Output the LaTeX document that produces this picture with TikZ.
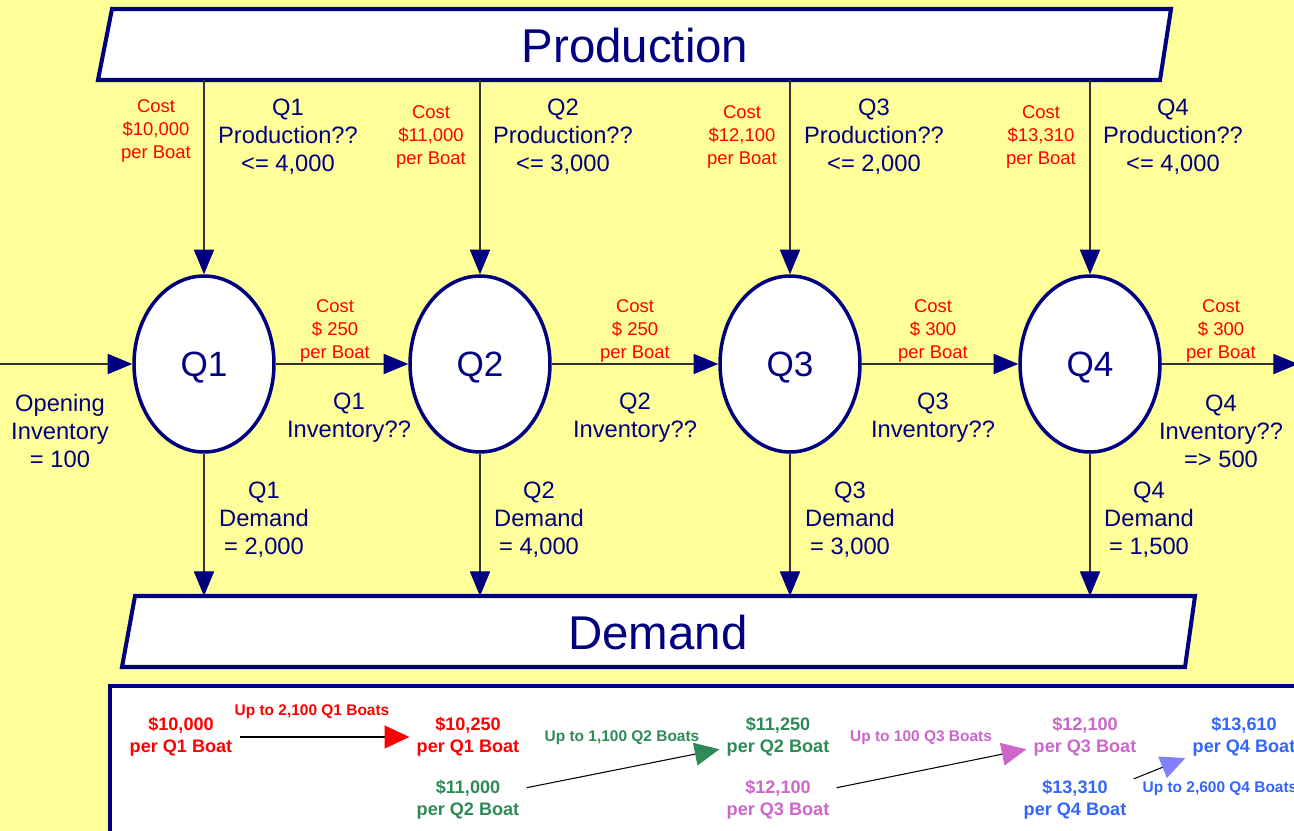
\documentclass[tikz,border=0pt]{standalone}
\usepackage{fontspec}
\setmainfont{Liberation Sans}
\usetikzlibrary{arrows.meta, positioning, shapes.geometric}
\definecolor{bgYellow}{RGB}{255,255,153}
\definecolor{mainNavy}{RGB}{0,0,128}
\definecolor{costRed}{RGB}{255,0,0}
\definecolor{qTwoGreen}{RGB}{46,139,87}
\definecolor{qThreeOrchid}{RGB}{204,102,204}
\definecolor{qFourBlue}{RGB}{51,102,255}
\definecolor{tipLilac}{RGB}{128,128,255}

\tikzset{
  frame/.style={draw=mainNavy, line width=2.3pt, fill=white},
  quarter/.style={ellipse, draw=mainNavy, line width=2pt, fill=white,
    minimum width=2.8cm, minimum height=3.52cm, inner sep=0pt,
    text height=14.3pt, text depth=0pt,
    text=mainNavy, font=\fontsize{20}{24}\selectfont},
  flow/.style={draw=black!80, line width=0.6pt,
    -{Triangle[length=14pt, width=11.5pt, color=mainNavy]}},
  moveArrow/.style={draw=black, line width=0.6pt,
    -{Triangle[length=14pt, width=13pt, color=#1]}},
  bigText/.style={text=mainNavy, font=\fontsize{27}{32}\selectfont},
  lbl/.style={text=mainNavy, align=center, inner sep=0pt, yshift=-1.7pt,
    font=\fontsize{13.5}{15.9}\selectfont},
  cost/.style={text=costRed, align=center, inner sep=0pt, yshift=-1.7pt,
    font=\fontsize{10.5}{13}\selectfont},
  price/.style={text=#1, align=center, inner sep=4pt, yshift=-1.7pt,
    font=\bfseries\fontsize{10.3}{12.5}\selectfont},
  limit/.style={text=#1, inner sep=0pt, yshift=-1.7pt,
    font=\bfseries\fontsize{8.8}{10}\selectfont},
}

\begin{document}
\begin{tikzpicture}[x=0.02cm, y=-0.02cm]
    % Canvas
    \useasboundingbox (0,0) rectangle (1294,831);
    \fill[bgYellow] (0,0) rectangle (1294,831);
    \clip (0,0) rectangle (1294,831);

    % Production and Demand bars
    \draw[frame] (112,9) -- (1171,9) -- (1160,80) -- (98,80) -- cycle;
    \node[bigText] (prodTitle) at (635,46) {Production};
    \coordinate (prodBase) at (635,80);
    \draw[frame] (135,596) -- (1195,596) -- (1185,667) -- (122,667) -- cycle;
    \node[bigText] (demTitle) at (658,633) {Demand};
    \coordinate (demTop) at (658,596);

    % Quarters
    \node[quarter] (q1) at (204,364) {Q1};
    \node[quarter] (q2) at (480,364) {Q2};
    \node[quarter] (q3) at (790,364) {Q3};
    \node[quarter] (q4) at (1090,364) {Q4};

    % Production in, demand out
    \foreach \q in {q1,q2,q3,q4} {
        \draw[flow] (\q |- prodBase) -- (\q.north);
        \draw[flow] (\q.south) -- (\q |- demTop);
    }

    % Inventory carried over
    \coordinate (invIn) at (0,364);
    \coordinate (invOut) at (1298,364);
    \draw[flow] (invIn) -- (q1.west);
    \draw[flow] (q1) -- (q2);
    \draw[flow] (q2) -- (q3);
    \draw[flow] (q3) -- (q4);
    \draw[flow] (q4.east) -- (invOut);

    % Production labels
    \node[cost] (prodCost1) at (156,128) {Cost\\\$10,000\\per Boat};
    \node[lbl] (prodCap1) at (288,134) {Q1\\Production??\\<= 4,000};
    \node[cost] (prodCost2) at (431,134) {Cost\\\$11,000\\per Boat};
    \node[lbl] (prodCap2) at (563,134) {Q2\\Production??\\<= 3,000};
    \node[cost] (prodCost3) at (742,134) {Cost\\\$12,100\\per Boat};
    \node[lbl] (prodCap3) at (874,134) {Q3\\Production??\\<= 2,000};
    \node[cost] (prodCost4) at (1041,134) {Cost\\\$13,310\\per Boat};
    \node[lbl] (prodCap4) at (1173,134) {Q4\\Production??\\<= 4,000};

    % Inventory labels
    \node[lbl] (openInv) at (60,428) {Opening\\Inventory\\= 100};
    \node[cost] (holdCost1) at (335,328) {Cost\\\$ 250\\per Boat};
    \node[lbl] (inv1) at (349,415) {Q1\\Inventory??};
    \node[cost] (holdCost2) at (635,328) {Cost\\\$ 250\\per Boat};
    \node[lbl] (inv2) at (635,415) {Q2\\Inventory??};
    \node[cost] (holdCost3) at (933,328) {Cost\\\$ 300\\per Boat};
    \node[lbl] (inv3) at (933,415) {Q3\\Inventory??};
    \node[cost] (holdCost4) at (1221,328) {Cost\\\$ 300\\per Boat};
    \node[lbl] (inv4) at (1221,428) {Q4\\Inventory??\\=> 500};

    % Demand labels
    \node[lbl] (dem1) at (264,517) {Q1\\Demand\\= 2,000};
    \node[lbl] (dem2) at (539,517) {Q2\\Demand\\= 4,000};
    \node[lbl] (dem3) at (850,517) {Q3\\Demand\\= 3,000};
    \node[lbl] (dem4) at (1149,517) {Q4\\Demand\\= 1,500};

    % Cost shifting box
    \draw[frame] (110,686) rectangle (1320,860);
    \node[price=costRed] (p1a) at (181,734) {\$10,000\\per Q1 Boat};
    \node[price=costRed] (p1b) at (468,734) {\$10,250\\per Q1 Boat};
    \node[price=qTwoGreen] (p2a) at (468,797) {\$11,000\\per Q2 Boat};
    \node[price=qTwoGreen] (p2b) at (778,734) {\$11,250\\per Q2 Boat};
    \node[price=qThreeOrchid] (p3a) at (778,797) {\$12,100\\per Q3 Boat};
    \node[price=qThreeOrchid] (p3b) at (1085,734) {\$12,100\\per Q3 Boat};
    \node[price=qFourBlue] (p4a) at (1075,797) {\$13,310\\per Q4 Boat};
    \node[price=qFourBlue] (p4b) at (1244,734) {\$13,610\\per Q4 Boat};

    \draw[moveArrow=costRed] (p1a.east) -- (p1b.west);
    \draw[moveArrow=qTwoGreen] ([yshift=7pt]p2a.east) -- ([yshift=-7pt]p2b.west);
    \draw[moveArrow=qThreeOrchid] ([yshift=7pt]p3a.east) -- ([yshift=-7pt]p3b.west);
    \draw[moveArrow=tipLilac] ([yshift=12pt]p4a.east) -- ([yshift=-12pt]p4b.west);

    \node[limit=costRed] (lim1) at (312,709) {Up to 2,100 Q1 Boats};
    \node[limit=qTwoGreen] (lim2) at (622,735) {Up to 1,100 Q2 Boats};
    \node[limit=qThreeOrchid] (lim3) at (921,735) {Up to 100 Q3 Boats};
    \node[limit=qFourBlue] (lim4) at (1220,786) {Up to 2,600 Q4 Boats};
\end{tikzpicture}
\end{document}
